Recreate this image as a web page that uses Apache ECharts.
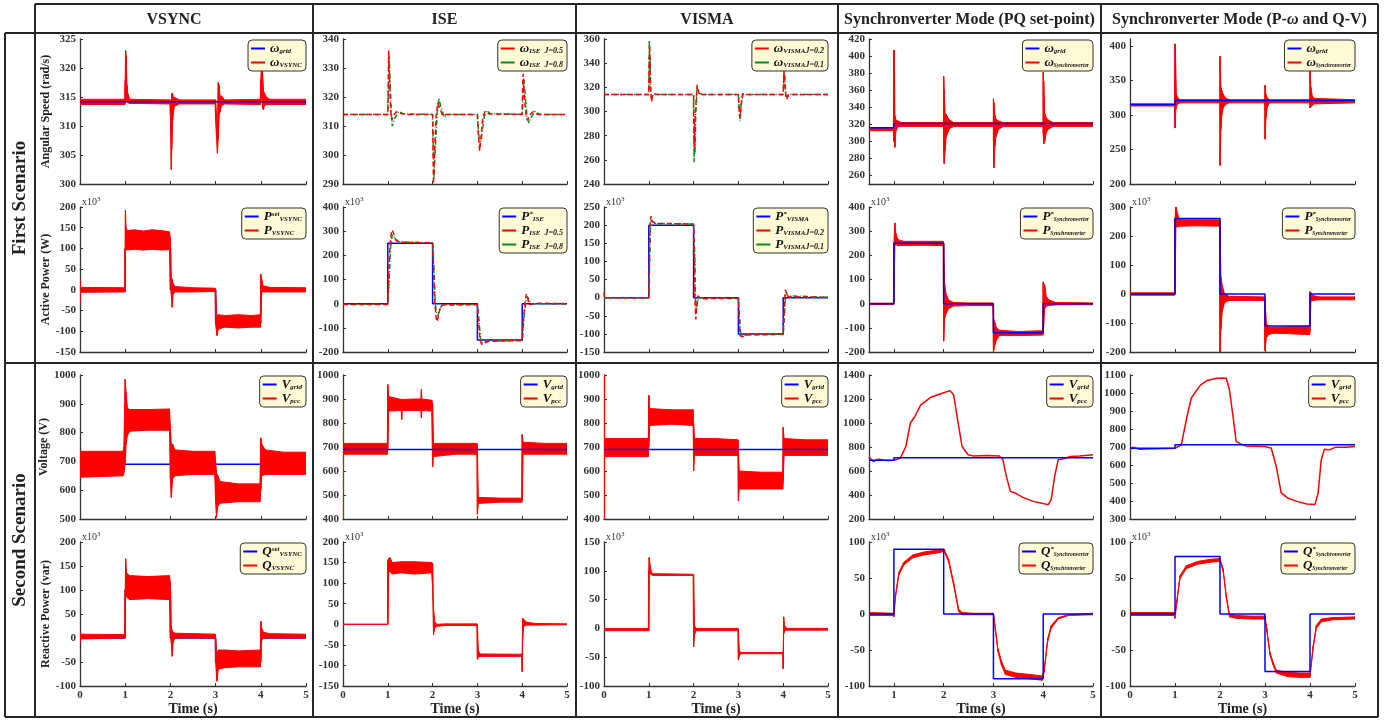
<!DOCTYPE html>
<html><head><meta charset="utf-8">
<script src="https://cdn.jsdelivr.net/npm/echarts@6/dist/echarts.min.js"></script>
<style>html,body{margin:0;padding:0;background:#fff}#c{width:1391px;height:720px}</style>
</head><body><div id="c"></div>
<script>
// ---------------- texts ----------------
const COL_TITLES = ['VSYNC', 'ISE', 'VISMA', 'Synchronverter Mode (PQ set-point)', 'Synchronverter Mode (P-ω and Q-V)'];
const ROW_TITLES = ['First Scenario', 'Second Scenario'];
const Y_NAMES = ['Angular Speed (rad/s)', 'Active Power (W)', 'Voltage (V)', 'Reactive Power (var)'];
const X_NAME = 'Time (s)';

// ---------------- axis ranges / tick labels ----------------
const X_RANGE = [[0, 5], [0, 5], [0, 5], [0.5, 5], [0, 5]];
const X_TICKS = [[0,1,2,3,4,5],[0,1,2,3,4,5],[0,1,2,3,4,5],[1,2,3,4,5],[0,1,2,3,4,5]];
const Y_RANGE = [
  [[300,325],[290,340],[240,360],[250,420],[200,410]],
  [[-150,200],[-200,400],[-150,250],[-200,400],[-200,300]],
  [[500,1000],[400,1000],[400,1000],[200,1400],[300,1100]],
  [[-100,200],[-150,200],[-100,150],[-100,100],[-100,100]]
];
const Y_TICKS = [
  [[300,305,310,315,320,325],[290,300,310,320,330,340],[240,260,280,300,320,340,360],[260,280,300,320,340,360,380,400,420],[200,250,300,350,400]],
  [[-150,-100,-50,0,50,100,150,200],[-200,-100,0,100,200,300,400],[-150,-100,-50,0,50,100,150,200,250],[-200,-100,0,100,200,300,400],[-200,-100,0,100,200,300]],
  [[500,600,700,800,900,1000],[400,500,600,700,800,900,1000],[400,500,600,700,800,900,1000],[200,400,600,800,1000,1200,1400],[300,400,500,600,700,800,900,1000,1100]],
  [[-100,-50,0,50,100,150,200],[-150,-100,-50,0,50,100,150,200],[-100,-50,0,50,100,150],[-100,-50,0,50,100],[-100,-50,0,50,100]]
];

// ---------------- data: [t, value] lines, [t, low, high] noisy envelopes ----------------
// Row 1: angular speed (rad/s)
const w1_grid = [[0,314.2],[5,314.2]];
const w1_red = [[0,313.7,314.6],[0.99,313.7,314.6],[1.0,314,318],[1.01,316,323],[1.02,315,322],[1.04,314.2,317],[1.06,314,315.5],[1.1,313.9,314.6],[1.99,313.8,314.5],[2.0,312,314.5],[2.02,302.5,310],[2.03,306,315.6],[2.05,311,315.6],[2.07,312.5,314.5],[2.09,313.5,315],[2.12,313.5,314.8],[2.2,313.8,314.5],[2.99,313.8,314.5],[3.0,311,314.5],[3.04,305.3,309],[3.06,308,317.5],[3.08,312,317],[3.1,312.5,315],[3.13,313.5,315.2],[3.2,313.8,314.5],[3.99,313.7,314.6],[4.0,314,318],[4.02,316,322],[4.04,313,319],[4.06,312.8,316],[4.08,313.5,315.7],[4.12,313.7,315],[4.2,313.7,314.6],[5,313.7,314.6]];
const w2_r = [[0,314],[1.0,314],[1.01,325],[1.02,336],[1.04,325],[1.07,314],[1.09,312],[1.12,313.5],[1.2,315],[1.3,314.3],[1.4,314],[2.0,314],[2.01,300],[2.02,290],[2.04,300],[2.08,314],[2.12,318],[2.16,316],[2.23,313.5],[2.3,314],[3.0,314],[3.02,307],[3.05,301.5],[3.08,306],[3.12,313],[3.17,315],[3.25,314.2],[4.0,314],[4.01,322],[4.02,328],[4.05,320],[4.09,313],[4.12,312],[4.18,314],[4.25,315],[4.35,314],[5,314]];
const w2_g = [[0,314],[1.0,314],[1.02,327],[1.03,334],[1.05,326],[1.08,314],[1.1,310],[1.15,312.5],[1.25,315],[1.35,314.2],[2.0,314],[2.02,300],[2.03,292],[2.06,302],[2.1,314],[2.14,319.5],[2.18,317],[2.26,313],[2.35,314],[3.0,314],[3.03,307],[3.06,303],[3.1,307],[3.15,313],[3.2,315.3],[3.3,314.2],[4.0,314],[4.02,321],[4.04,326],[4.07,320],[4.11,313],[4.15,311],[4.2,313],[4.28,315],[4.4,314],[5,314]];
const w3_r = [[0,314],[1.0,314],[1.0,320],[1.01,345],[1.015,325],[1.02,355],[1.03,330],[1.04,320],[1.06,308],[1.08,312],[1.12,314.5],[1.2,314],[2.0,314],[2.0,300],[2.01,275],[2.015,295],[2.02,270],[2.03,290],[2.05,305],[2.08,322],[2.1,318],[2.13,314],[3.0,314],[3.01,305],[3.03,295],[3.05,300],[3.08,312],[3.1,315],[3.15,314],[4.0,314],[4.01,325],[4.02,333],[4.04,322],[4.06,312],[4.08,310],[4.12,314],[5,314]];
const w3_g = [[0,314],[1.0,314],[1.005,330],[1.01,359],[1.02,335],[1.03,345],[1.04,318],[1.06,311],[1.1,314],[2.0,314],[2.005,290],[2.01,258],[2.02,280],[2.03,265],[2.05,300],[2.08,320],[2.12,315],[2.2,314],[3.0,314],[3.02,300],[3.04,292],[3.06,305],[3.1,314],[4.0,314],[4.01,328],[4.02,337],[4.04,325],[4.06,315],[4.08,312],[4.12,314],[5,314]];
const w4_grid = [[0.5,316],[1,316],[1,321],[5,321]];
const w4_red = [[0.5,312.5,315.5],[0.99,312.5,315.5],[1.0,300,407],[1.01,300,407],[1.02,293,330],[1.04,312,325],[1.08,317,324],[1.15,317.5,322],[2.0,317.5,322],[2.0,290,376],[2.01,274,360],[2.03,290,332],[2.05,305,332],[2.08,310,328],[2.12,315,325],[2.2,317.5,322],[3.0,317.5,322],[3.0,300,350],[3.01,269,345],[3.03,295,330],[3.05,305,326],[3.1,314,324],[3.2,317.5,322],[4.0,317.5,322],[4.0,310,381],[4.01,297,370],[4.03,300,333],[4.06,310,328],[4.1,314,325],[4.2,317.5,322],[5,317.5,322]];
const w5_grid = [[0,315],[1,315],[1,321],[5,321]];
const w5_red = [[0,313,316],[0.99,313,316],[1.0,281,403],[1.01,300,390],[1.03,312,330],[1.06,316,325],[1.12,317.5,322],[2.0,317.5,322],[2.0,227,385],[2.02,280,340],[2.04,300,335],[2.07,310,330],[2.12,315,325],[2.2,317.5,322],[3.0,317.5,322],[3.0,265,343],[3.02,295,330],[3.05,312,325],[3.1,317.5,322],[4.0,317.5,322],[4.0,310,369],[4.02,312,340],[4.05,314,327],[4.1,316,324],[5,317.5,322]];

// Row 2: active power (x10^3 W)
const p1_set = [[0,0],[1,0],[1,100],[2,100],[2,0],[3,0],[3,-80],[4,-80],[4,0],[5,0]];
const p1_red = [[0,-35,25],[0.01,-6,6],[0.99,-5,5],[1.0,-5,100],[1.005,110,192],[1.02,97,150],[1.05,96,143],[1.2,98,145],[1.4,96,142],[1.6,98,145],[1.8,96,143],[1.98,97,140],[2.0,20,125],[2.02,-10,30],[2.04,-42,25],[2.06,-10,15],[2.1,-5,8],[2.5,-5,5],[2.99,-4,4],[3.0,-82,0],[3.03,-110,-65],[3.06,-95,-60],[3.2,-90,-62],[3.5,-92,-60],[3.8,-90,-62],[3.99,-90,-60],[4.0,-60,38],[4.02,-5,25],[4.05,-5,10],[4.2,-5,6],[5,-5,5]];
const p2_set = [[0,0],[1,0],[1,250],[2,250],[2,0],[3,0],[3,-150],[4,-150],[4,0],[5,0]];
const p2_r = [[0,-3],[1.0,-3],[1.02,100],[1.05,250],[1.08,295],[1.1,305],[1.13,290],[1.18,262],[1.25,255],[1.5,253],[2.0,252],[2.02,150],[2.05,0],[2.08,-60],[2.1,-75],[2.13,-50],[2.18,-10],[2.25,-5],[2.6,-4],[3.0,-4],[3.02,-60],[3.06,-150],[3.1,-170],[3.15,-162],[3.25,-156],[3.6,-154],[4.0,-152],[4.03,-60],[4.06,0],[4.09,40],[4.12,30],[4.15,-5],[4.2,-2],[4.3,2],[5,0]];
const p2_g = [[0,-2],[1.0,-2],[1.03,100],[1.06,230],[1.1,285],[1.13,290],[1.17,270],[1.22,258],[1.3,255],[2.0,252],[2.03,150],[2.06,0],[2.09,-40],[2.12,-50],[2.16,-20],[2.22,-5],[3.0,-3],[3.03,-60],[3.07,-145],[3.11,-162],[3.17,-158],[3.3,-155],[4.0,-152],[4.04,-60],[4.08,10],[4.11,30],[4.15,15],[4.2,0],[5,0]];
const p3_set = [[0,0],[1,0],[1,200],[2,200],[2,0],[3,0],[3,-100],[4,-100],[4,0],[5,0]];
const p3_r = [[0,15],[0.01,0],[1.0,0],[1.02,150],[1.03,205],[1.05,225],[1.08,210],[1.15,205],[2.0,203],[2.02,100],[2.03,-5],[2.05,-60],[2.07,-20],[2.1,5],[2.15,-3],[3.0,-2],[3.02,-60],[3.04,-105],[3.1,-108],[3.15,-103],[4.0,-101],[4.02,-50],[4.04,5],[4.05,22],[4.08,8],[4.12,2],[5,1]];
const p3_g = [[0,0],[1.0,0],[1.03,150],[1.04,200],[1.06,215],[1.1,207],[1.2,204],[2.0,203],[2.03,100],[2.04,0],[2.06,-40],[2.09,-10],[2.12,0],[3.0,-2],[3.03,-60],[3.05,-103],[3.1,-106],[3.2,-102],[4.0,-101],[4.03,-40],[4.05,5],[4.07,15],[4.1,5],[5,1]];
const p4_set = [[0.5,0],[1,0],[1,250],[2,250],[2,0],[3,0],[3,-120],[4,-120],[4,0],[5,0]];
const p4_red = [[0.5,-4,2],[0.99,-4,2],[1.0,0,250],[1.02,240,334],[1.04,245,290],[1.08,240,265],[1.2,241,258],[1.6,242,258],[1.99,240,258],[2.0,-155,250],[2.02,-60,80],[2.05,-40,40],[2.1,-20,15],[2.2,-10,5],[2.5,-8,3],[2.99,-8,3],[3.0,-200,-60],[3.03,-170,-80],[3.06,-150,-100],[3.12,-132,-110],[3.5,-132,-115],[3.99,-130,-112],[4.0,-125,90],[4.03,-20,75],[4.06,-10,30],[4.12,-8,15],[4.25,-5,5],[5,-4,3]];
const p5_set = [[0,0],[1,0],[1,260],[2,260],[2,0],[3,0],[3,-110],[4,-110],[4,0],[5,0]];
const p5_red = [[0,-4,4],[0.99,-4,4],[1.0,0,260],[1.02,230,310],[1.05,232,280],[1.1,234,256],[1.5,235,256],[1.99,234,256],[2.0,-200,250],[2.02,-120,60],[2.05,-60,30],[2.1,-30,0],[2.2,-22,-8],[2.99,-22,-10],[3.0,-195,-20],[3.03,-150,-100],[3.08,-140,-115],[3.2,-135,-115],[3.99,-140,-112],[4.0,-130,8],[4.02,-25,5],[4.06,-22,-5],[4.2,-20,-10],[5,-20,-10]];

// Row 3: voltage (V)
const v1_grid = [[0,690],[5,690]];
const v1_red = [[0,645,735],[0.95,650,735],[0.97,660,750],[1.0,690,985],[1.02,760,940],[1.05,790,885],[1.1,805,880],[1.5,808,880],[1.98,808,882],[2.0,640,820],[2.02,575,760],[2.05,640,760],[2.1,650,740],[2.5,655,735],[2.98,655,735],[3.0,560,700],[3.02,505,660],[3.05,545,650],[3.1,555,630],[3.5,560,622],[3.98,560,622],[4.0,600,782],[4.02,650,760],[4.1,655,740],[4.5,655,732],[5,655,732]];
const v2_grid = [[0,690],[5,690]];
const v2_red = [[0,400,400],[0,400,900],[0.005,670,715],[0.99,670,715],[1.0,690,960],[1.02,850,910],[1.3,852,898],[1.31,815,898],[1.32,852,898],[1.6,852,900],[1.74,852,900],[1.75,822,940],[1.76,852,900],[1.98,850,895],[2.0,618,880],[2.02,660,715],[2.5,670,715],[2.99,670,715],[3.0,420,690],[3.02,465,490],[3.5,470,487],[3.99,470,487],[4.0,480,752],[4.02,670,720],[4.5,670,715],[5,670,715]];
const v3_grid = [[0,690],[5,690]];
const v3_red = [[0,400,400],[0,400,1000],[0.005,660,735],[0.99,660,735],[1.0,700,915],[1.02,790,860],[1.5,795,855],[1.99,790,855],[2.0,600,800],[2.02,665,735],[2.5,665,735],[2.99,665,730],[3.0,475,690],[3.02,525,600],[3.5,525,595],[3.99,525,595],[4.0,560,782],[4.02,665,735],[4.5,665,730],[5,665,730]];
const v4_grid = [[0.5,690],[1,690],[1,710],[5,710]];
const v4_red = [[0.5,716],[0.53,700],[0.59,679],[0.64,690],[0.69,699],[0.8,690],[0.9,688],[1.0,690],[1.13,707],[1.24,804],[1.33,998],[1.42,1054],[1.54,1151],[1.74,1214],[2.03,1256],[2.13,1270],[2.2,1234],[2.27,1054],[2.37,804],[2.49,735],[2.59,726],[2.87,729],[3.12,726],[3.19,693],[3.26,555],[3.34,430],[3.44,416],[3.59,380],[3.8,347],[4.02,327],[4.1,319],[4.16,361],[4.23,555],[4.3,693],[4.41,702],[4.55,721],[4.73,726],[5,735]];
const v5_grid = [[0,693],[1,693],[1,712],[5,712]];
const v5_red = [[0,684],[0.07,699],[0.21,688],[1.0,693],[1.14,712],[1.25,850],[1.36,971],[1.46,1008],[1.57,1045],[1.71,1069],[1.93,1082],[2.05,1084],[2.14,1082],[2.21,1017],[2.29,869],[2.36,730],[2.46,717],[2.57,706],[3.0,703],[3.14,693],[3.25,592],[3.36,445],[3.5,417],[3.71,398],[3.93,383],[4.11,380],[4.18,444],[4.25,629],[4.32,688],[4.43,684],[4.57,699],[4.79,699],[5,703]];

// Row 4: reactive power (x10^3 var)
const q1_set = [[0,0],[1,0],[1,100],[2,100],[2,0],[3,0],[3,-50],[4,-50],[4,0],[5,0]];
const q1_red = [[0,-12,12],[0.02,-2,8],[0.99,0,7],[1.0,0,100],[1.01,100,165],[1.03,85,135],[1.1,80,130],[1.5,82,128],[1.98,80,130],[2.0,10,115],[2.02,-10,25],[2.04,-38,15],[2.06,-10,12],[2.1,0,10],[2.99,0,8],[3.0,-50,0],[3.03,-90,-35],[3.06,-65,-25],[3.2,-62,-25],[3.5,-60,-27],[3.99,-60,-25],[4.0,-40,35],[4.02,-5,20],[4.06,0,12],[4.2,0,9],[5,0,8]];
const q2_red = [[0,0,0],[1.0,0,0],[1.0,0,155],[1.02,130,160],[1.05,128,162],[1.1,122,150],[1.3,125,152],[1.6,122,152],[1.98,125,150],[2.0,90,148],[2.02,-25,40],[2.05,-8,5],[2.1,-5,0],[2.3,-3,1],[2.99,-3,1],[3.0,-85,0],[3.02,-80,-62],[3.05,-78,-72],[3.99,-78,-73],[4.0,-115,-70],[4.01,-40,15],[4.03,-5,12],[4.1,-2,5],[4.3,-2,2],[5,-1,1]];
const q3_red = [[0,-4,0],[0.99,-4,0],[1.0,-4,100],[1.01,100,123],[1.03,95,110],[1.06,93,97],[1.1,92,95],[1.99,92,94],[2.0,-32,93],[2.02,-12,5],[2.05,-4,0],[2.99,-4,0],[3.0,-55,-2],[3.02,-48,-38],[3.05,-44,-42],[3.99,-44,-42],[4.0,-70,-40],[4.01,-10,20],[4.03,-5,5],[4.08,-3,0],[5,-3,0]];
const q4_set = [[0.5,0],[1,0],[1,90],[2,90],[2,0],[3,0],[3,-90],[4,-90],[4,0],[5,0]];
const q4_red = [[0.5,-2,2],[0.99,-2,1],[1.0,-4,0],[1.03,22,26],[1.1,54,58],[1.2,68,72],[1.38,78,82],[1.6,82,86],[1.89,85,89],[2.01,87,90],[2.1,72,76],[2.2,40,44],[2.3,3,7],[2.37,-1,2],[2.6,-1,1],[3.0,-1,1],[3.04,-24,-20],[3.09,-52,-48],[3.16,-71,-65],[3.24,-84,-78],[3.45,-88,-82],[3.73,-90,-84],[3.98,-92,-86],[4.02,-80,-76],[4.09,-38,-34],[4.16,-20,-16],[4.3,-7,-5],[4.51,-2,-1],[5,-1,1]];
const q5_set = [[0,0],[1,0],[1,80],[2,80],[2,0],[3,0],[3,-80],[4,-80],[4,0],[5,0]];
const q5_red = [[0,-2,2],[0.99,-2,2],[1.0,-6,0],[1.04,15,19],[1.11,49,53],[1.25,63,67],[1.5,69,73],[1.79,72,76],[2.0,73,77],[2.07,59,63],[2.14,22,26],[2.21,-4,0],[2.36,-6,-2],[2.71,-7,-3],[3.0,-7,-3],[3.04,-24,-20],[3.11,-57,-53],[3.18,-71,-67],[3.25,-82,-78],[3.5,-87,-81],[3.79,-88,-82],[4.0,-88,-82],[4.07,-48,-44],[4.14,-20,-16],[4.25,-11,-7],[4.5,-8,-5],[5,-7,-4]];

// ---------------- legend labels ----------------
const LABELS = {
  w1g:'{m|ω}{s|grid}', w1r:'{m|ω}{s|VSYNC}',
  w2r:'{m|ω}{s|ISE}{j|  J=0.5}', w2g:'{m|ω}{s|ISE}{j|  J=0.8}',
  w3r:'{m|ω}{s|VISMA}{j|J=0.2}', w3g:'{m|ω}{s|VISMA}{j|J=0.1}',
  w4g:'{m|ω}{s|grid}', w4r:'{m|ω}{ss|Synchronverter}',
  w5g:'{m|ω}{s|grid}', w5r:'{m|ω}{ss|Synchronverter}',
  p1s:'{m|P}{u|set}{s|VSYNC}', p1r:'{m|P}{s|VSYNC}',
  p2s:'{m|P}{u|*}{s|ISE}', p2r:'{m|P}{s|ISE}{j|  J=0.5}', p2g:'{m|P}{s|ISE}{j|  J=0.8}',
  p3s:'{m|P}{u|*}{s|VISMA}', p3r:'{m|P}{s|VISMA}{j|J=0.2}', p3g:'{m|P}{s|VISMA}{j|J=0.1}',
  p4s:'{m|P}{u|*}{ss|Synchronverter}', p4r:'{m|P}{ss|Synchronverter}',
  p5s:'{m|P}{u|*}{ss|Synchronverter}', p5r:'{m|P}{ss|Synchronverter}',
  v1g:'{m|V}{s|grid}', v1r:'{m|V}{s|pcc}', v2g:'{m|V}{s|grid}', v2r:'{m|V}{s|pcc}',
  v3g:'{m|V}{s|grid}', v3r:'{m|V}{s|pcc}', v4g:'{m|V}{s|grid}', v4r:'{m|V}{s|pcc}',
  v5g:'{m|V}{s|grid}', v5r:'{m|V}{s|pcc}',
  q1s:'{m|Q}{u|set}{s|VSYNC}', q1r:'{m|Q}{s|VSYNC}',
  q4s:'{m|Q}{u|*}{ss|Synchronverter}', q4r:'{m|Q}{ss|Synchronverter}',
  q5s:'{m|Q}{u|*}{ss|Synchronverter}', q5r:'{m|Q}{ss|Synchronverter}'
};

// ---------------- styling / layout ----------------
const BLUE = '#0000ff', RED = '#ff0000', GREEN = '#0c8a1e', AX = '#333333';
const FONT = '"Liberation Serif","Times New Roman",serif';
const W = 1391;
const PLOT_X = [[80,306],[343,567],[604,828],[869,1093],[1130,1355]];
const PLOT_Y = [[39,184],[207,352],[375,519],[542,686]];
const COL_EDGES = [35, 313, 576, 838, 1101, 1378];
const ROW_EDGES = [4, 33, 363, 717];

// draw entries: [id, kind, data, color, dash]; listed in drawing order (last on top)
const PANELS = [
  {r:0,c:0, draw:[['w1r','band',w1_red,RED],['w1g','line',w1_grid,BLUE]], leg:['w1g','w1r']},
  {r:0,c:1, draw:[['w2g','line',w2_g,GREEN,'dd'],['w2r','line',w2_r,RED,'d']], leg:['w2r','w2g']},
  {r:0,c:2, draw:[['w3g','line',w3_g,GREEN,'dd'],['w3r','line',w3_r,RED,'d']], leg:['w3r','w3g']},
  {r:0,c:3, draw:[['w4r','band',w4_red,RED],['w4g','line',w4_grid,BLUE]], leg:['w4g','w4r']},
  {r:0,c:4, draw:[['w5r','band',w5_red,RED],['w5g','line',w5_grid,BLUE]], leg:['w5g','w5r']},
  {r:1,c:0, draw:[['p1s','line',p1_set,BLUE],['p1r','band',p1_red,RED]], leg:['p1s','p1r']},
  {r:1,c:1, draw:[['p2s','line',p2_set,BLUE],['p2g','line',p2_g,GREEN,'dd'],['p2r','line',p2_r,RED,'d']], leg:['p2s','p2r','p2g']},
  {r:1,c:2, draw:[['p3s','line',p3_set,BLUE],['p3g','line',p3_g,GREEN,'dd'],['p3r','line',p3_r,RED,'d']], leg:['p3s','p3r','p3g']},
  {r:1,c:3, draw:[['p4r','band',p4_red,RED],['p4s','line',p4_set,BLUE]], leg:['p4s','p4r']},
  {r:1,c:4, draw:[['p5r','band',p5_red,RED],['p5s','line',p5_set,BLUE]], leg:['p5s','p5r']},
  {r:2,c:0, draw:[['v1g','line',v1_grid,BLUE],['v1r','band',v1_red,RED]], leg:['v1g','v1r']},
  {r:2,c:1, draw:[['v2r','band',v2_red,RED],['v2g','line',v2_grid,BLUE]], leg:['v2g','v2r']},
  {r:2,c:2, draw:[['v3r','band',v3_red,RED],['v3g','line',v3_grid,BLUE]], leg:['v3g','v3r']},
  {r:2,c:3, draw:[['v4r','line',v4_red,RED],['v4g','line',v4_grid,BLUE]], leg:['v4g','v4r']},
  {r:2,c:4, draw:[['v5r','line',v5_red,RED],['v5g','line',v5_grid,BLUE]], leg:['v5g','v5r']},
  {r:3,c:0, draw:[['q1s','line',q1_set,BLUE],['q1r','band',q1_red,RED]], leg:['q1s','q1r']},
  {r:3,c:1, draw:[['q2r','band',q2_red,RED]], leg:[]},
  {r:3,c:2, draw:[['q3r','band',q3_red,RED]], leg:[]},
  {r:3,c:3, draw:[['q4r','band',q4_red,RED],['q4s','line',q4_set,BLUE]], leg:['q4s','q4r']},
  {r:3,c:4, draw:[['q5r','band',q5_red,RED],['q5s','line',q5_set,BLUE]], leg:['q5s','q5r']}
];

const RICH = {
  m:{fontFamily:FONT, fontStyle:'italic', fontWeight:'bold', fontSize:13, lineHeight:12, color:'#111'},
  s:{fontFamily:FONT, fontStyle:'italic', fontWeight:'bold', fontSize:7, lineHeight:7, verticalAlign:'bottom', color:'#111'},
  ss:{fontFamily:FONT, fontStyle:'italic', fontWeight:'bold', fontSize:5.5, lineHeight:6, verticalAlign:'bottom', color:'#111'},
  u:{fontFamily:FONT, fontStyle:'italic', fontWeight:'bold', fontSize:7, lineHeight:7, verticalAlign:'top', color:'#111'},
  j:{fontFamily:FONT, fontStyle:'italic', fontWeight:'bold', fontSize:8, lineHeight:8, verticalAlign:'bottom', color:'#111'}
};

const grids = [], xAxes = [], yAxes = [], series = [], legends = [], graphics = [];
const colorOf = {};
const numFmt = v => String(v);

PANELS.forEach((p, gi) => {
  const [x0, x1] = PLOT_X[p.c], [y0, y1] = PLOT_Y[p.r];
  grids.push({left:x0, top:y0, width:x1 - x0, height:y1 - y0});
  const bottom = p.r === 3;
  xAxes.push({
    type:'value', gridIndex:gi, min:X_RANGE[p.c][0], max:X_RANGE[p.c][1],
    axisLine:{show:true, onZero:false, lineStyle:{color:AX, width:1.3}},
    axisTick:{show:true, inside:true, length:3, customValues:X_TICKS[p.c], lineStyle:{color:AX, width:1}},
    axisLabel:{show:bottom, customValues:X_TICKS[p.c], formatter:numFmt, margin:4, color:'#333', fontFamily:FONT, fontWeight:'bold', fontSize:11},
    splitLine:{show:false},
    name: bottom ? X_NAME : '', nameLocation:'middle', nameGap:15,
    nameTextStyle:{color:'#222', fontFamily:FONT, fontWeight:'bold', fontSize:14}
  });
  yAxes.push({
    type:'value', gridIndex:gi, min:Y_RANGE[p.r][p.c][0], max:Y_RANGE[p.r][p.c][1],
    axisLine:{show:true, onZero:false, lineStyle:{color:AX, width:1.3}},
    axisTick:{show:true, inside:true, length:3, customValues:Y_TICKS[p.r][p.c], lineStyle:{color:AX, width:1}},
    axisLabel:{show:true, customValues:Y_TICKS[p.r][p.c], formatter:numFmt, margin:4, color:'#333', fontFamily:FONT, fontWeight:'bold', fontSize:11},
    splitLine:{show:false},
    name: p.c === 0 ? Y_NAMES[p.r] : '', nameLocation:'middle', nameGap:28,
    nameTextStyle:{color:'#222', fontFamily:FONT, fontWeight:'bold', fontSize:12}
  });
  p.draw.forEach((d, k) => {
    const [id, kind, data, color, dash] = d;
    colorOf[id] = color;
    const z = 2 + k;
    if (kind === 'line') {
      series.push({
        type:'line', name:id, xAxisIndex:gi, yAxisIndex:gi, data:data, z:z,
        symbol:'none', showSymbol:false, silent:true, animation:false, clip:true,
        lineStyle:{color:color, width:1.5, type: dash === 'd' ? [5,3] : dash === 'dd' ? [5,2,1,2] : 'solid'},
        itemStyle:{color:color}
      });
    } else {
      const pts = data;
      series.push({
        type:'custom', name:id, xAxisIndex:gi, yAxisIndex:gi, data:pts, z:z,
        encode:{x:0, y:[1,2]}, silent:true, animation:false, clip:true,
        itemStyle:{color:color},
        renderItem:function(params, api){
          const i = params.dataIndex;
          if (i >= pts.length - 1) return {type:'group', children:[]};
          const a = pts[i], b = pts[i+1];
          const q = [api.coord([a[0], a[1]]), api.coord([b[0], b[1]]), api.coord([b[0], b[2]]), api.coord([a[0], a[2]])];
          return {type:'polygon', shape:{points:q}, style:{fill:color, stroke:color, lineWidth:1}};
        }
      });
    }
  });
  if (p.leg.length) {
    legends.push({
      show:true, orient:'vertical', right: W - x1, top: y0 + 1, selectedMode:false, z:10,
      data: p.leg.map(id => ({name:id, icon:'rect', itemStyle:{color:colorOf[id]}})),
      formatter: n => LABELS[n],
      itemWidth:14, itemHeight:2, itemGap:1, padding:[2,4,2,3],
      backgroundColor:'#fffad6', borderColor:'#333', borderWidth:1, borderRadius:4,
      textStyle:{rich:RICH, color:'#111', fontFamily:FONT}
    });
  }
  if (p.r === 1 || p.r === 3) {
    graphics.push({type:'text', silent:true, style:{
      text:'{a|x10}{b|3}', x:x0 + 2, y:y0 + 1, verticalAlign:'bottom', align:'left',
      rich:{a:{fontFamily:FONT, fontSize:10, fill:'#333', lineHeight:12}, b:{fontFamily:FONT, fontSize:7, fill:'#333', lineHeight:7, verticalAlign:'top'}}
    }});
  }
});

// table lines
const LS = {stroke:'#262626', lineWidth:2};
const xl = COL_EDGES[0], xr = COL_EDGES[COL_EDGES.length - 1];
graphics.push({type:'line', silent:true, shape:{x1:xl, y1:ROW_EDGES[0], x2:xr, y2:ROW_EDGES[0]}, style:LS});
[1,2,3].forEach(k => graphics.push({type:'line', silent:true, shape:{x1:5, y1:ROW_EDGES[k], x2:xr, y2:ROW_EDGES[k]}, style:LS}));
graphics.push({type:'line', silent:true, shape:{x1:5, y1:ROW_EDGES[1], x2:5, y2:ROW_EDGES[3]}, style:LS});
COL_EDGES.forEach(x => graphics.push({type:'line', silent:true, shape:{x1:x, y1:ROW_EDGES[0], x2:x, y2:ROW_EDGES[3]}, style:LS}));

// column titles
COL_TITLES.forEach((t, i) => {
  graphics.push({type:'text', silent:true, style:{
    text: t.replace('ω', '{w|ω}'),
    x:(COL_EDGES[i] + COL_EDGES[i+1]) / 2, y:(ROW_EDGES[0] + ROW_EDGES[1]) / 2 + 1,
    align:'center', verticalAlign:'middle', fill:'#222',
    fontFamily:FONT, fontWeight:'bold', fontSize:16,
    rich:{w:{fontFamily:FONT, fontStyle:'italic', fontWeight:'bold', fontSize:16, fill:'#222'}}
  }});
});
// row titles
ROW_TITLES.forEach((t, i) => {
  graphics.push({type:'text', silent:true, x:20, y:(ROW_EDGES[i+1] + ROW_EDGES[i+2]) / 2, rotation:Math.PI / 2,
    style:{text:t, x:0, y:0, align:'center', verticalAlign:'middle', fill:'#222', fontFamily:FONT, fontWeight:'bold', fontSize:19}});
});

const chart = echarts.init(document.getElementById('c'), null, {renderer:'canvas'});
chart.setOption({
  animation:false, backgroundColor:'#ffffff',
  grid:grids, xAxis:xAxes, yAxis:yAxes, series:series, legend:legends,
  graphic:{elements:graphics}
});
</script></body></html>
